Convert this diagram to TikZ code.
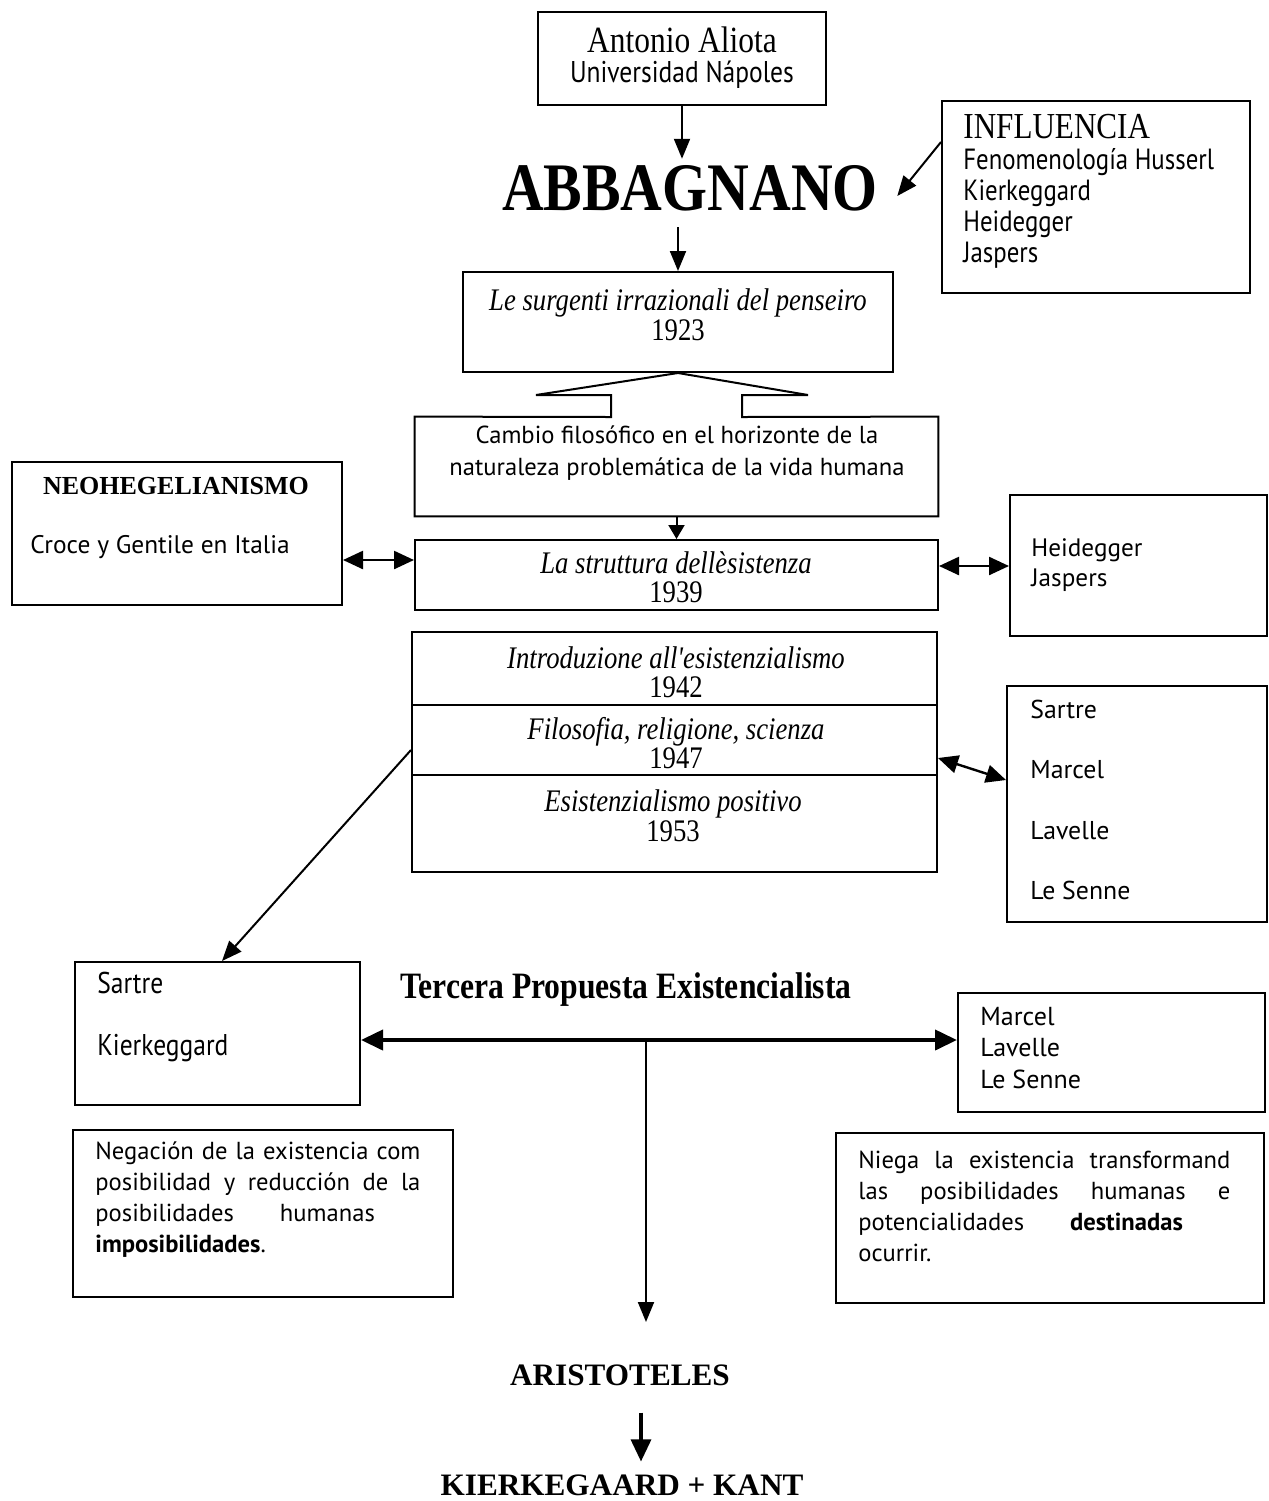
\documentclass[tikz,border=0pt]{standalone}
\usepackage{fontspec}
\setmainfont{Liberation Serif}
\setsansfont{PT Sans}
\newfontfamily\rmcond[FakeStretch=0.85]{Liberation Serif}
\newfontfamily\sfcond[FakeStretch=0.85]{PT Sans}
\usetikzlibrary{arrows.meta,fit}

\begin{document}
\begin{tikzpicture}[x=0.5pt,y=-0.5pt,
  caja/.style={draw,line width=1pt,inner sep=0pt},
  hueca/.style={inner sep=0pt},
  flecha/.style={line width=1pt,-{Triangle[length=10pt,width=8pt]}},
  flechita/.style={line width=1pt,-{Triangle[length=7pt,width=8pt]}},
  doble/.style={line width=1.2pt,{Triangle[length=10pt,width=9pt]}-{Triangle[length=10pt,width=9pt]}},
  dobleg/.style={line width=2pt,{Triangle[length=11pt,width=10pt]}-{Triangle[length=11pt,width=10pt]}},
  gruesa/.style={line width=1.6pt,-{Triangle[length=11pt,width=10pt]}},
  titulo/.style={font=\rmcond\fontsize{15.7}{15}\selectfont,align=center},
  lista/.style={anchor=west,align=left,inner sep=0pt,font=\sffamily\fontsize{12.6}{15}\selectfont}]
  \useasboundingbox (0,0) rectangle (1269,1501);

  \node[caja,fit={(538,12) (826,105)}] (aliota) {};
  \node[font=\rmcond\fontsize{18.5}{18}\selectfont] (taliota) at (682,40) {Antonio Aliota};
  \node[font=\sfcond\fontsize{15}{15}\selectfont] (tnapoles) at (682,75) {Universidad Nápoles};
  \node[font=\rmcond\bfseries\fontsize{34}{34}\selectfont,inner sep=3pt] (abbagnano) at (690,188) {ABBAGNANO};

  \node[caja,fit={(942,101) (1250,293)}] (influencia) {};
  \node[anchor=west,inner sep=0pt,font=\rmcond\fontsize{18.3}{18}\selectfont] (tinfluencia) at (963,127) {INFLUENCIA};
  \node[lista,font=\sfcond\fontsize{14.6}{15.5}\selectfont] (tinflu) at (963,208) {Fenomenología Husserl\\Kierkeggard\\Heidegger\\Jaspers};

  \node[caja,fit={(463,272) (893,372)}] (surgenti) {};
  \node[titulo] (tsurgenti) at (678,315) {{\itshape Le surgenti irrazionali del penseiro}\\1923};

  \node[hueca,fit={(415,417) (938,516)}] (cambio) {};
  \node[align=center,font=\sffamily\fontsize{12.3}{16}\selectfont] (tcambio) at (677,453) {Cambio filosófico en el horizonte de la\\naturaleza problemática de la vida humana};

  \node[caja,fit={(415,540) (938,610)}] (struttura) {};
  \node[titulo,font=\rmcond\fontsize{15.7}{14.5}\selectfont] (tstruttura) at (676,577) {{\itshape La struttura dellèsistenza}\\1939};

  \node[caja,fit={(12,462) (342,605)}] (neo) {};
  \node[font=\bfseries\fontsize{13}{13}\selectfont] (tneo) at (176,486) {NEOHEGELIANISMO};
  \node[anchor=west,inner sep=0pt,font=\sffamily\fontsize{12.7}{12}\selectfont] (tcroce) at (30,547) {Croce y Gentile en Italia};

  \node[caja,fit={(1010,495) (1267,636)}] (heid) {};
  \node[lista] (theid) at (1031,565) {Heidegger\\Jaspers};

  \node[caja,fit={(412,632) (937,705)}] (obra1) {};
  \node[caja,fit={(412,705) (937,775)}] (obra2) {};
  \node[caja,fit={(412,775) (937,872)}] (obra3) {};
  \node[titulo,font=\rmcond\fontsize{15.7}{14.5}\selectfont] (tobra1) at (676,672) {{\itshape Introduzione all'esistenzialismo}\\1942};
  \node[titulo,font=\rmcond\fontsize{15.7}{14.5}\selectfont] (tobra2) at (676,743) {{\itshape Filosofia, religione, scienza}\\1947};
  \node[titulo] (tobra3) at (673,816) {{\itshape Esistenzialismo positivo}\\1953};

  \node[caja,fit={(1007,686) (1267,922)}] (sartrem) {};
  \node[lista,font=\sffamily\fontsize{12.9}{30.3}\selectfont] (tsartrem) at (1030,800) {Sartre\\Marcel\\Lavelle\\Le Senne};

  \node[caja,fit={(75,962) (360,1105)}] (sartrek) {};
  \node[lista,font=\sfcond\fontsize{15}{31}\selectfont] (tsartrek) at (97,1017) {Sartre\\Kierkeggard};

  \node[font=\rmcond\bfseries\fontsize{18.6}{18}\selectfont] (tercera) at (626,990) {Tercera Propuesta Existencialista};

  \node[caja,fit={(958,993) (1265,1112)}] (marcel) {};
  \node[lista,font=\sffamily\fontsize{13}{15.75}\selectfont] (tmarcel) at (980,1048) {Marcel\\Lavelle\\Le Senne};

  \node[caja,fit={(73,1130) (453,1297)}] (negacion) {};
  \node[lista,font=\sffamily\fontsize{12.3}{15.5}\selectfont] (tnegacion) at (95,1200)
    {\makebox[162.5pt][s]{Negación de la existencia com}\\\makebox[162.5pt][s]{posibilidad y reducción de la}\\posibilidades\hspace{23pt}humanas\\\textbf{imposibilidades}.};

  \node[caja,fit={(836,1133) (1264,1303)}] (niega) {};
  \node[lista,font=\sffamily\fontsize{12.3}{15.5}\selectfont] (tniega) at (858,1206)
    {\makebox[186pt][s]{Niega la existencia transformand}\\\makebox[186pt][s]{las posibilidades humanas e}\\potencialidades\hspace{23pt}\textbf{destinadas}\\ocurrir.};

  \node[font=\bfseries\fontsize{15.6}{16}\selectfont] (aristoteles) at (620,1375) {ARISTOTELES};
  \node[font=\bfseries\fontsize{15.6}{16}\selectfont] (kant) at (622,1485) {KIERKEGAARD + KANT};

  \coordinate (cruce) at (646,1040);
  \coordinate (llegada) at (646,1322);

  \draw[flecha] (aliota.south) -- (aliota.south |- abbagnano.north);
  \draw[flecha] (influencia.west |- 0,142) -- ([xshift=6.5pt,yshift=-4pt]abbagnano.east);
  \draw[flecha,shorten <=5pt] (abbagnano.south -| surgenti.north) -- (surgenti.north);
  \draw[line width=1pt] (surgenti.south) -- (536,395) -- (611,395) -- (611,417) -- (cambio.north west)
    -- (cambio.south west) -- (cambio.south east) -- (cambio.north east) -- (742,417) -- (742,395) -- (808,395) -- cycle;
  \draw[flechita] (cambio.south) -- (struttura.north);
  \draw[doble] (neo.east |- 0,560) -- (struttura.west |- 0,560);
  \draw[doble] (struttura.east |- 0,566) -- (heid.west |- 0,566);
  \draw[doble] (obra2.east |- 0,758) -- (sartrem.west |- 0,780);
  \draw[flecha] (obra2.west |- 0,750) -- (sartrek.north -| 222,0);
  \draw[dobleg] (sartrek.east |- cruce) -- (marcel.west |- cruce);
  \draw[flecha] (cruce) -- (llegada);
  \draw[gruesa,shorten <=10pt,shorten >=3pt] (aristoteles.south -| 641,0) -- (kant.north -| 641,0);
\end{tikzpicture}
\end{document}
